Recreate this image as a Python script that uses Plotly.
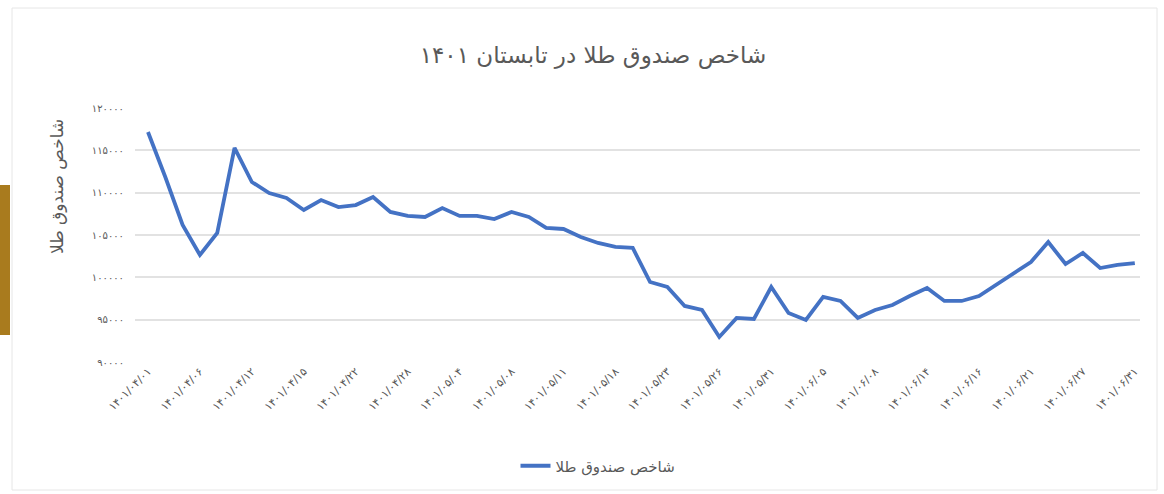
import plotly.graph_objects as go

# Gold fund index, summer 1401 (one value per trading session)
index_values = [
    117170, 111850, 106180, 102640, 105240, 115280, 111260, 109960, 109370, 107950,
    109130, 108300, 108540, 109490, 107720, 107250, 107130, 108190, 107250, 107250,
    106890, 107720, 107130, 105830, 105710, 104770, 104060, 103590, 103470, 99450,
    98860, 96620, 96140, 92960, 95200, 95080, 98860, 95790, 94960, 97680,
    97210, 95200, 96140, 96730, 97790, 98740, 97210, 97210, 97790, 99090,
    100510, 101810, 104170, 101570, 102880, 101100, 101460, 101690,
]

# Dates shown on the category axis (every third session)
date_labels = [
    "۱۴۰۱/۰۴/۰۱", "۱۴۰۱/۰۴/۰۶", "۱۴۰۱/۰۴/۱۲", "۱۴۰۱/۰۴/۱۵", "۱۴۰۱/۰۴/۲۲",
    "۱۴۰۱/۰۴/۲۸", "۱۴۰۱/۰۵/۰۴", "۱۴۰۱/۰۵/۰۸", "۱۴۰۱/۰۵/۱۱", "۱۴۰۱/۰۵/۱۸",
    "۱۴۰۱/۰۵/۲۳", "۱۴۰۱/۰۵/۲۶", "۱۴۰۱/۰۵/۳۱", "۱۴۰۱/۰۶/۰۵", "۱۴۰۱/۰۶/۰۸",
    "۱۴۰۱/۰۶/۱۴", "۱۴۰۱/۰۶/۱۶", "۱۴۰۱/۰۶/۲۱", "۱۴۰۱/۰۶/۲۷", "۱۴۰۱/۰۶/۳۱",
]
label_step = 3

y_tick_values = [90000, 95000, 100000, 105000, 110000, 115000, 120000]
y_tick_labels = ["۹۰۰۰۰", "۹۵۰۰۰", "۱۰۰۰۰۰", "۱۰۵۰۰۰", "۱۱۰۰۰۰", "۱۱۵۰۰۰", "۱۲۰۰۰۰"]

title_text = "شاخص صندوق طلا در تابستان ۱۴۰۱"
series_name = "شاخص صندوق طلا"

FONT = "DejaVu Sans, Noto Sans, sans-serif"
TEXT_GRAY = "#595959"

x_index = list(range(len(index_values)))

fig = go.Figure()
fig.add_trace(go.Scatter(
    x=x_index,
    y=index_values,
    mode="lines",
    name=series_name,
    line=dict(color="#4472C4", width=3.8),
))

W, H = 1164, 494
ml, mr, mt, mb = 135, 24, 108, 132
pw, ph = W - ml - mr, H - mt - mb


def px_x(px):
    return (px - ml) / pw


def px_y(py):
    return (H - mb - py) / ph


fig.update_layout(
    width=W,
    height=H,
    margin=dict(l=ml, r=mr, t=mt, b=mb),
    paper_bgcolor="white",
    plot_bgcolor="white",
    font=dict(family=FONT, color=TEXT_GRAY),
    title=dict(
        text=title_text,
        x=px_x(593), xanchor="center", xref="paper",
        y=1 - 55 / H, yanchor="middle",
        font=dict(size=23, color=TEXT_GRAY, family=FONT),
    ),
    xaxis=dict(
        range=[-0.75, len(index_values) - 1 + 0.3],
        tickmode="array",
        tickvals=x_index[::label_step],
        ticktext=date_labels,
        tickangle=-45,
        tickfont=dict(size=11, color=TEXT_GRAY),
        showgrid=False,
        showline=False,
        zeroline=False,
        ticks="",
    ),
    yaxis=dict(
        range=[90000, 120000],
        tickmode="array",
        tickvals=y_tick_values,
        ticktext=y_tick_labels,
        tickfont=dict(size=10, color=TEXT_GRAY),
        showgrid=True,
        gridcolor="#e2e2e2",
        gridwidth=1.5,
        zeroline=False,
        showline=False,
        ticks="",
        ticklabelstandoff=10,
    ),
    showlegend=True,
    legend=dict(
        orientation="h",
        x=px_x(598), xanchor="center",
        y=px_y(466), yanchor="middle",
        font=dict(size=15, color=TEXT_GRAY),
        bgcolor="rgba(0,0,0,0)",
    ),
    annotations=[
        dict(
            text=series_name,
            xref="paper", yref="paper",
            x=px_x(57), y=px_y(187),
            xanchor="center", yanchor="middle",
            textangle=-90,
            showarrow=False,
            font=dict(size=17, color=TEXT_GRAY, family=FONT),
        )
    ],
    shapes=[
        # outer chart frame
        dict(type="rect", xref="paper", yref="paper",
             x0=px_x(12), x1=px_x(1157), y0=px_y(490), y1=px_y(8),
             line=dict(color="#e6e6e6", width=1), fillcolor="rgba(0,0,0,0)",
             layer="below"),
        # gold accent bar at the left edge
        dict(type="rect", xref="paper", yref="paper",
             x0=px_x(0), x1=px_x(10), y0=px_y(335), y1=px_y(185),
             line=dict(width=0), fillcolor="#A97B1E"),
    ],
)

fig.write_html("out.html")
